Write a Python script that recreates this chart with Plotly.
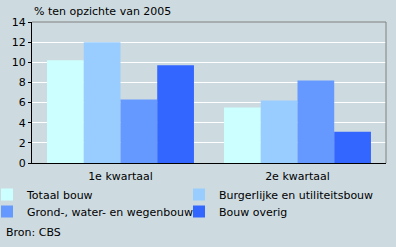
import plotly.graph_objects as go

categories = ["1e kwartaal", "2e kwartaal"]
series_names = ["Totaal bouw", "Burgerlijke en utiliteitsbouw", "Grond-, water- en wegenbouw", "Bouw overig"]
totaal = [10.2, 5.5]
burgerlijk = [12.0, 6.2]
grond = [6.3, 8.2]
overig = [9.7, 3.1]
colors = ["#CCFFFF", "#99CCFF", "#6699FF", "#3366FF"]
y_ticks = [0, 2, 4, 6, 8, 10, 12, 14]

BG = "#CDDBE0"
FONT = "DejaVu Sans"
PW = 354.0
PH = 141.0

# legend slots (pixel positions of each legend box's top-left)
legend_ids = ["legend", "legend2", "legend3", "legend4"]
legend_px = [(-13, 180), (179, 180), (-13, 197), (179, 197)]

fig = go.Figure()
for name, vals, col, lg in zip(series_names, [totaal, burgerlijk, grond, overig], colors, legend_ids):
    fig.add_trace(go.Bar(x=categories, y=vals, name=name, legend=lg,
                         marker=dict(color=col, line=dict(width=0))))

leg_common = dict(orientation="v", yanchor="top", xanchor="left", font=dict(size=11),
                  bgcolor="rgba(0,0,0,0)", borderwidth=0, tracegroupgap=0, itemwidth=30)
legends = {}
for lg, (px, py) in zip(legend_ids, legend_px):
    legends[lg] = dict(x=(px - 32) / PW, y=(163 - py) / PH, **leg_common)

fig.update_layout(
    width=396, height=247,
    margin=dict(l=32, r=10, t=22, b=84, autoexpand=False),
    paper_bgcolor=BG, plot_bgcolor=BG,
    font=dict(family=FONT, size=11, color="black"),
    barmode="group", bargap=0.17, bargroupgap=0,
    showlegend=True,
    xaxis=dict(showline=True, linecolor="black", linewidth=1, mirror=False, ticks="",
               tickfont=dict(size=11), showgrid=False, ticklabelstandoff=3),
    yaxis=dict(range=[0, 14], tickvals=y_ticks, showgrid=True, gridcolor="white", gridwidth=1,
               showline=True, linecolor="black", linewidth=1, ticks="outside", ticklen=3,
               tickcolor="black", tickfont=dict(size=11), zeroline=False),
    annotations=[
        dict(text="% ten opzichte van 2005", x=0, xref="paper", y=1, yref="paper", xanchor="left",
             yanchor="bottom", yshift=2, showarrow=False, font=dict(size=11)),
        dict(text="Bron: CBS", x=-32 / PW, xref="paper", y=-69 / PH, yref="paper", xanchor="left",
             xshift=4, yanchor="middle", showarrow=False, font=dict(size=11)),
    ],
    shapes=[
        dict(type="line", xref="paper", yref="paper", x0=0, x1=1, y0=1, y1=1, line=dict(color="#808080", width=1)),
        dict(type="line", xref="paper", yref="paper", x0=1, x1=1, y0=0, y1=1, line=dict(color="#808080", width=1)),
    ],
    **legends,
)

fig.write_html("out.html")
